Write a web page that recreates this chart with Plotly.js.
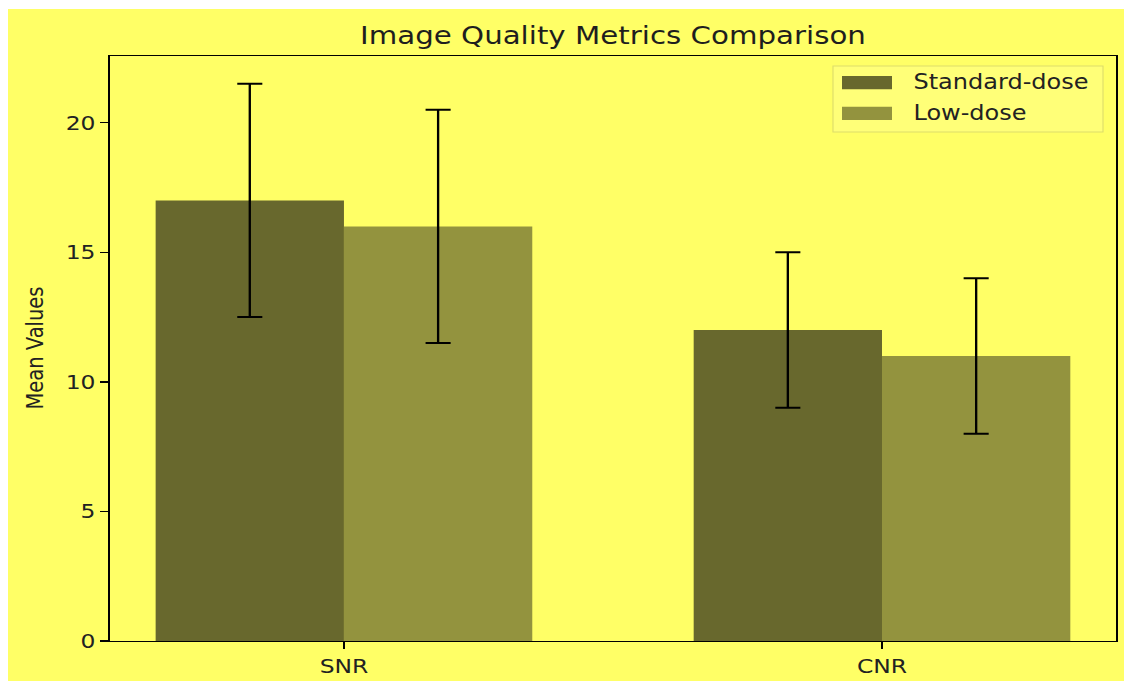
<!DOCTYPE html>
<html>
<head>
<meta charset="utf-8">
<script src="https://cdn.plot.ly/plotly-3.0.1.min.js"></script>
<style>
  html, body { margin: 0; padding: 0; background: #ffffff; overflow: hidden; width: 1124px; height: 681px; }
  #chart { position: absolute; left: 8px; top: 9px; width: 953px; height: 672px;
           transform: scaleX(1.1713); transform-origin: 0 0; }
</style>
</head>
<body>
<div id="chart"></div>
<script>
const categories = ['SNR', 'CNR'];
const categoryPos = [0, 1];
const seriesNames = ['Standard-dose', 'Low-dose'];
const standardDose = [17, 12];
const standardErr = [4.5, 3];
const lowDose = [16, 11];
const lowErr = [4.5, 3];
const yTicks = [0, 5, 10, 15, 20];
const seriesColors = ['#68682d', '#93933e'];

const font = 'DejaVu Sans, Verdana, sans-serif';

// plot geometry (local, before horizontal stretch)
const W = 953, H = 672, ML = 87, MR = 7, MT = 47, MB = 40, SX = 1.1713;
const PW = W - ML - MR, PH = H - MT - MB;
const px = xr => ((xr - 8) / SX - ML) / PW;   // reference pixel -> paper x
const py = yr => 1 - ((yr - 9) - MT) / PH;     // reference pixel -> paper y

const traces = [
  {
    type: 'bar', name: seriesNames[0], x: categoryPos, y: standardDose,
    width: 0.35, offset: -0.35,
    marker: { color: seriesColors[0], line: { width: 0 } },
    error_y: { type: 'data', array: standardErr, visible: true, color: '#000000', thickness: 2, width: 10.7 },
    hoverinfo: 'skip'
  },
  {
    type: 'bar', name: seriesNames[1], x: categoryPos, y: lowDose,
    width: 0.35, offset: 0,
    marker: { color: seriesColors[1], line: { width: 0 } },
    error_y: { type: 'data', array: lowErr, visible: true, color: '#000000', thickness: 2, width: 10.7 },
    hoverinfo: 'skip'
  }
];

// legend drawn as matplotlib-style box with wide swatches
const legendRows = [
  { sy0: 76, sy1: 89.3, ty: 82.5 },
  { sy0: 106.7, sy1: 120, ty: 113 }
];
const shapes = [
  {
    type: 'rect', xref: 'paper', yref: 'paper',
    x0: px(833), x1: px(1103), y0: py(132), y1: py(66),
    fillcolor: 'rgba(255,255,255,0.12)', line: { color: '#dede6a', width: 1 }, layer: 'above'
  }
];
const annotations = [
  {
    text: 'Mean Values', textangle: -90, showarrow: false,
    xref: 'paper', yref: 'paper', x: -0.0745, y: 0.5,
    xanchor: 'center', yanchor: 'middle',
    font: { family: font, size: 19.5, color: '#222222' }
  }
];
legendRows.forEach((r, i) => {
  shapes.push({
    type: 'rect', xref: 'paper', yref: 'paper',
    x0: px(842), x1: px(892), y0: py(r.sy1), y1: py(r.sy0),
    fillcolor: seriesColors[i], line: { width: 0 }, layer: 'above'
  });
  annotations.push({
    text: seriesNames[i], showarrow: false,
    xref: 'paper', yref: 'paper', x: px(911), y: py(r.ty),
    xanchor: 'left', yanchor: 'middle',
    font: { family: font, size: 20.5, color: '#222222' }
  });
});

const layout = {
  width: W, height: H,
  paper_bgcolor: '#ffff66', plot_bgcolor: '#ffff66',
  margin: { l: ML, r: MR, t: MT, b: MB },
  barmode: 'overlay',
  showlegend: false,
  font: { family: font, color: '#222222' },
  title: {
    text: 'Image Quality Metrics Comparison',
    font: { family: font, size: 25, color: '#1e1e1e' },
    x: 0.5, xref: 'paper', xanchor: 'center',
    y: 1 - 26 / H, yref: 'container', yanchor: 'middle'
  },
  xaxis: {
    range: [-0.435, 1.435],
    tickvals: categoryPos, ticktext: categories,
    ticks: 'outside', ticklen: 7, tickwidth: 1.3, tickcolor: '#000000',
    showline: true, mirror: true, linecolor: '#000000', linewidth: 1.3,
    showgrid: false, zeroline: false,
    tickfont: { family: font, size: 20, color: '#222222' }
  },
  yaxis: {
    range: [0, 22.575],
    tickvals: yTicks,
    ticks: 'outside', ticklen: 7, tickwidth: 1.3, tickcolor: '#000000',
    showline: true, mirror: true, linecolor: '#000000', linewidth: 1.3,
    showgrid: false, zeroline: false,
    tickfont: { family: font, size: 20, color: '#222222' }
  },
  shapes: shapes,
  annotations: annotations
};

Plotly.newPlot('chart', traces, layout, { displayModeBar: false, staticPlot: true });
</script>
</body>
</html>
